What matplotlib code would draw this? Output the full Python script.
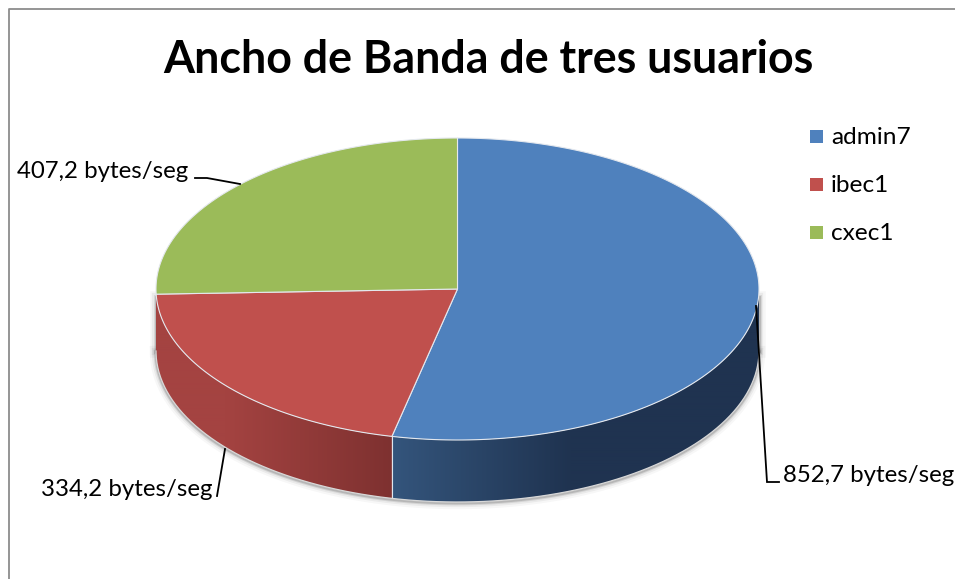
"""Ancho de banda de tres usuarios: tarta con efecto 3D."""

import matplotlib

matplotlib.use("Agg")
import matplotlib.pyplot as plt
from matplotlib.colors import to_rgb
from matplotlib.patches import Polygon, Rectangle
import numpy as np

users = ["admin7", "ibec1", "cxec1"]
bandwidth = [852.7, 334.2, 407.2]
value_labels = ["852,7 bytes/seg", "334,2 bytes/seg", "407,2 bytes/seg"]
title = "Ancho de Banda de tres usuarios"

top_colors = ["#4f81bd", "#c0504d", "#9bbb59"]
side_colors = [("#34557c", "#1f3350"), ("#a44341", "#7e3130")]

# geometria del disco en pixeles
CX, CY, RX, RY, DEPTH = 457.5, 289, 301.5, 151, 62
FONT = "Lato"

plt.rcParams["font.family"] = FONT


def rim(t):
    t = np.radians(t)
    return CX + RX * np.sin(t), CY - RY * np.cos(t)


def side_wall(ax, start, end, ramp, colors):
    # pared lateral: degradado horizontal recortado a la forma de la pared
    x, y = rim(np.linspace(start, end, 300))
    outline = np.column_stack([np.r_[x, x[::-1]], np.r_[y, y[::-1] + DEPTH]])
    patch = Polygon(outline, closed=True, facecolor="none", edgecolor="none", transform=ax.transData)
    ax.add_patch(patch)
    xs = np.arange(x.min() - 1, x.max() + 2)
    frac = np.clip((xs - ramp[0]) / (ramp[1] - ramp[0]), 0, 1)[None, :, None]
    c0, c1 = [np.array(to_rgb(c))[None, None, :] for c in colors]
    img = ax.imshow(c0 + (c1 - c0) * frac, extent=(xs[0], xs[-1], y.max() + DEPTH + 1, y.min() - 1),
                    aspect="auto", interpolation="bilinear", zorder=2)
    img.set_clip_path(patch)


fig = plt.figure(figsize=(9.55, 5.79), dpi=100)
ax = fig.add_axes([0, 0, 1, 1])
ax.axis("off")

# marco del grafico
ax.plot([8.5, 8.5, 955], [579, 8.5, 8.5], color="#8c8c8c", lw=1.3)

edges = np.concatenate([[0], np.cumsum(bandwidth)]) / np.sum(bandwidth) * 360

# sombra bajo la pared
ts = np.linspace(90, 270, 200)
sx, sy = rim(ts)
for lw, alpha in [(9, 0.03), (6, 0.05), (3.5, 0.09), (2, 0.14)]:
    ax.plot(sx, sy + DEPTH + 1, color="black", alpha=alpha, lw=lw, zorder=1)
    ax.plot([sx[0], sx[0]], [sy[0] + 8, sy[0] + DEPTH], color="black", alpha=alpha, lw=lw, zorder=1)
    ax.plot([sx[-1], sx[-1]], [sy[-1] + 8, sy[-1] + DEPTH], color="black", alpha=alpha, lw=lw, zorder=1)

# azul oscurece hacia la derecha; rojo hacia el corte con el azul
cut = rim(edges[1])[0]
side_wall(ax, 90, edges[1], (cut, 570), side_colors[0])
side_wall(ax, edges[1], 270, (225, cut), side_colors[1])

# aristas claras de la pared
x0, y0 = rim(edges[1])
ax.plot([x0, x0], [y0, y0 + DEPTH], color="#dfe6ee", lw=0.8, zorder=3)
ax.plot(sx, sy + DEPTH, color="#d8d8d8", lw=0.9, zorder=3)

# cara superior
for i in range(3):
    t = np.linspace(edges[i], edges[i + 1], 300)
    x, y = rim(t)
    pts = np.column_stack([np.r_[CX, x], np.r_[CY, y]])
    ax.add_patch(Polygon(pts, closed=True, facecolor=top_colors[i],
                         edgecolor="#e4e8ee", lw=0.8, zorder=4))

# etiquetas de valor con sus lineas guia
leaders = [
    ([756, 767, 779], [306, 482, 482]),
    ([225, 217], [449, 496]),
    ([195, 207, 240], [178, 178, 184]),
]
for xs, ys in leaders:
    ax.plot(xs, ys, color="black", lw=1.3, zorder=5, solid_joinstyle="miter")

label_pos = [(783, 476), (41, 489), (17, 172)]
for label, (lx, ly) in zip(value_labels, label_pos):
    ax.text(lx, ly, label, fontsize=17.3, color="black", va="center", ha="left", zorder=6)

ax.text(488, 60, title, fontsize=32.2, fontweight="bold", color="black",
        ha="center", va="center")

# leyenda
for name, color, yc in zip(users, top_colors, [136, 184, 232]):
    ax.add_patch(Rectangle((810, yc - 6.5), 13, 13, facecolor=color, edgecolor="none"))
    ax.text(831, yc + 1, name, fontsize=17.6, color="black", va="center", ha="left")

ax.set_xlim(0, 955)
ax.set_ylim(579, 0)

fig.savefig("out.png", dpi=100)
plt.close(fig)
